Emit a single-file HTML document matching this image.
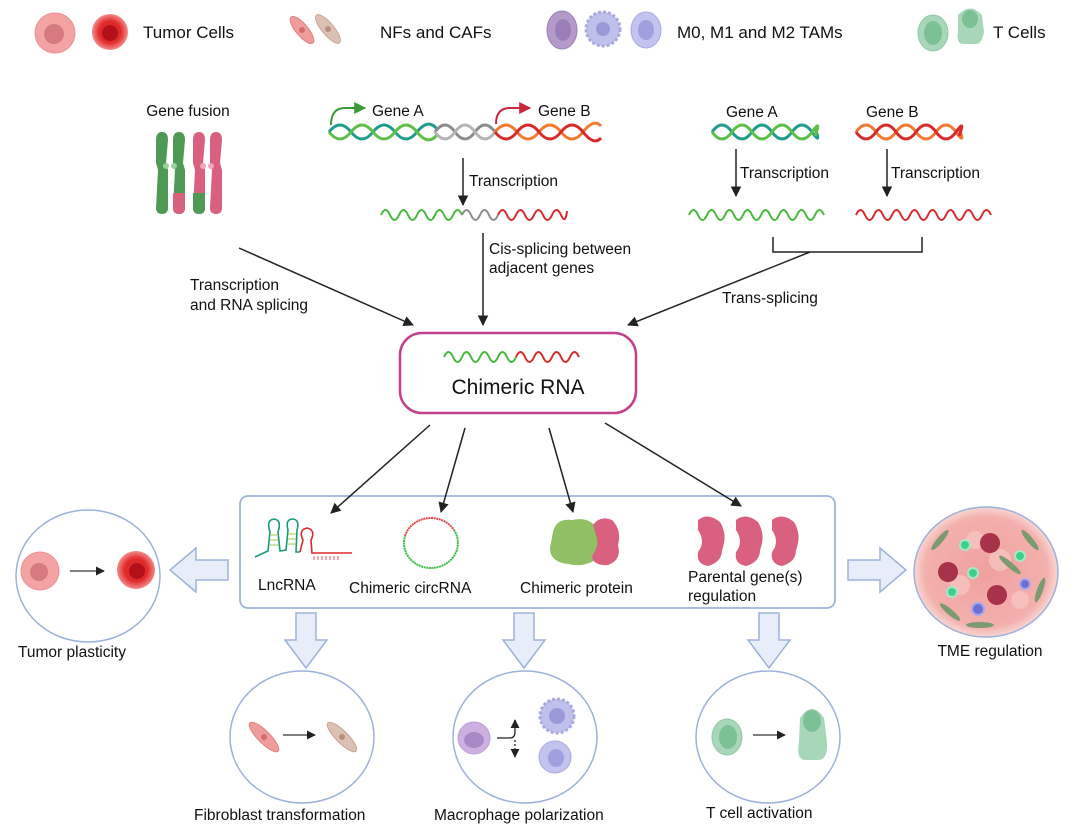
<!DOCTYPE html>
<html><head><meta charset="utf-8"><style>
html,body{margin:0;padding:0;background:#fff}
svg{display:block}
text{font-family:"Liberation Sans",Arial,sans-serif;fill:#111}
</style></head><body>
<svg width="1090" height="838" viewBox="0 0 1090 838" xmlns="http://www.w3.org/2000/svg">
<defs>
<marker id="ah" viewBox="0 0 10 10" refX="9" refY="5" markerWidth="7" markerHeight="7" orient="auto"><path d="M0,0L10,5L0,10z" fill="#222"/></marker>
<marker id="ahg" viewBox="0 0 10 10" refX="9" refY="5" markerWidth="6" markerHeight="6" orient="auto"><path d="M0,0L10,5L0,10z" fill="#3a9a3a"/></marker>
<marker id="ahr" viewBox="0 0 10 10" refX="9" refY="5" markerWidth="6" markerHeight="6" orient="auto"><path d="M0,0L10,5L0,10z" fill="#c8283a"/></marker>
<radialGradient id="rt" cx="50%" cy="50%" r="50%"><stop offset="0.6" stop-color="#e02a2a"/><stop offset="1" stop-color="#f58a8a"/></radialGradient>
<radialGradient id="tme" cx="50%" cy="50%" r="50%"><stop offset="0" stop-color="#f0a0a0"/><stop offset="0.85" stop-color="#f3b0ad"/><stop offset="1" stop-color="#f8d6d3"/></radialGradient>
</defs>

<!-- Legend -->
<circle cx="55" cy="33" r="20" fill="#f4a3a3" stroke="#ee8f8f"/>
<circle cx="54" cy="34" r="10" fill="#d57a80"/>
<circle cx="110" cy="32" r="18" fill="url(#rt)"/>
<circle cx="110" cy="33" r="8" fill="#b3101a"/>
<text x="143" y="38" font-size="17">Tumor Cells</text>
<ellipse cx="302" cy="30" rx="6" ry="17" transform="rotate(-40 302 30)" fill="#ef9d9a" stroke="#e08080"/>
<circle cx="302" cy="30" r="3" fill="#d66a6a"/>
<ellipse cx="328" cy="29" rx="6" ry="18" transform="rotate(-40 328 29)" fill="#dcc1b2" stroke="#c9a898"/>
<circle cx="328" cy="29" r="3" fill="#b89080"/>
<text x="380" y="38" font-size="17">NFs and CAFs</text>
<ellipse cx="562" cy="30" rx="15" ry="19" fill="#b49acb" stroke="#9a80b5"/>
<ellipse cx="563" cy="30" rx="8" ry="11" fill="#9a7eb8"/>
<circle cx="603" cy="29" r="17" fill="#c0c0ec" stroke="#a9a9e0" stroke-dasharray="3 2" stroke-width="3"/>
<circle cx="603" cy="29" r="7" fill="#9a9ad8"/>
<ellipse cx="646" cy="30" rx="15" ry="18" fill="#c3c3ef" stroke="#a8a8e0"/>
<ellipse cx="646" cy="30" rx="8" ry="10" fill="#a0a0dd"/>
<text x="677" y="38" font-size="17">M0, M1 and M2 TAMs</text>
<ellipse cx="933" cy="33" rx="15" ry="18" fill="#a8d6b8" stroke="#90c8a4"/>
<ellipse cx="933" cy="33" rx="9" ry="12" fill="#7cc095"/>
<path d="M958 15 Q970 2 982 15 L984 32 Q982 44 976 44 L962 44 Q956 42 958 32z" fill="#a8d6b8"/>
<ellipse cx="970" cy="19" rx="8" ry="9" fill="#7cc095"/>
<text x="993" y="38" font-size="17">T Cells</text>

<!-- Gene fusion -->
<text x="188" y="116" font-size="15.5" text-anchor="middle">Gene fusion</text>
<g>
<path d="M156 140 Q156 132 162 132 Q168 132 168 140 L166 163 L168 170 L168 208 Q168 214 162 214 Q156 214 156 208 L158 170 L156 163z" fill="#4e9a54"/>
<path d="M173 140 Q173 132 179 132 Q185 132 185 140 L183 163 L185 170 L185 208 Q185 214 179 214 Q173 214 173 208 L175 170 L173 163z" fill="#4e9a54"/>
<path d="M173 193 L185 193 L185 208 Q185 214 179 214 Q173 214 173 208z" fill="#d9607e"/>
<circle cx="166" cy="166" r="3" fill="#9ad09c"/><circle cx="174" cy="166" r="3" fill="#9ad09c"/>
<path d="M193 140 Q193 132 199 132 Q205 132 205 140 L203 163 L205 170 L205 208 Q205 214 199 214 Q193 214 193 208 L195 170 L193 163z" fill="#d9607e"/>
<path d="M210 140 Q210 132 216 132 Q222 132 222 140 L220 163 L222 170 L222 208 Q222 214 216 214 Q210 214 210 208 L212 170 L210 163z" fill="#d9607e"/>
<path d="M193 193 L205 193 L205 208 Q205 214 199 214 Q193 214 193 208z" fill="#4e9a54"/>
<circle cx="203" cy="166" r="3" fill="#f2a6b8"/><circle cx="211" cy="166" r="3" fill="#f2a6b8"/>
</g>

<!-- Cis DNA -->
<path d="M331 125 Q331 108 345 108 L365 108" fill="none" stroke="#3a9a3a" stroke-width="2" marker-end="url(#ahg)"/>
<text x="372" y="116" font-size="15.5">Gene A</text>
<path d="M496 124 Q496 108 510 108 L530 108" fill="none" stroke="#c8283a" stroke-width="2" marker-end="url(#ahr)"/>
<text x="538" y="116" font-size="15.5">Gene B</text>
<g fill="none" stroke-width="3">
<path d="M329 132 q11 -14 22 0 t22 0 t22 0 t22 0 t20 -3" stroke="#1e9c8c"/>
<path d="M329 132 q11 14 22 0 t22 0 t22 0 t22 0 t20 3" stroke="#5cbf48"/>
<path d="M435 132 q10 -14 20 0 t20 0 t20 0" stroke="#8c8c8c"/>
<path d="M435 132 q10 14 20 0 t20 0 t20 0" stroke="#b4b4b4"/>
<path d="M495 132 q11 -14 22 0 t22 0 t22 0 t22 0 t18 -6" stroke="#f07a30"/>
<path d="M495 132 q11 14 22 0 t22 0 t22 0 t22 0 t18 6" stroke="#d82a2a"/>
</g>
<line x1="463" y1="158" x2="463" y2="205" stroke="#222" stroke-width="1.5" marker-end="url(#ah)"/>
<text x="469" y="186" font-size="15.5">Transcription</text>
<g fill="none" stroke-width="2">
<path d="M381 215 q4.5 -10 9 0 t9 0 t9 0 t9 0 t9 0 t9 0 t9 0 t9 0 t9 0" stroke="#46b83c"/>
<path d="M462 215 q4.5 -10 9 0 t9 0 t9 0 t9 0" stroke="#8c8c8c"/>
<path d="M498 215 q4.5 -10 9 0 t9 0 t9 0 t9 0 t9 0 t9 0 t9 0 t6 -4" stroke="#d82a2a"/>
</g>
<line x1="483" y1="233" x2="483" y2="325" stroke="#222" stroke-width="1.5" marker-end="url(#ah)"/>
<text x="489" y="254" font-size="15.5">Cis-splicing between</text>
<text x="489" y="273" font-size="15.5">adjacent genes</text>

<!-- Trans -->
<text x="726" y="117" font-size="15.5">Gene A</text>
<text x="866" y="117" font-size="15.5">Gene B</text>
<g fill="none" stroke-width="3">
<path d="M712 132 q10 -14 20 0 t20 0 t20 0 t20 0 t20 0 t3 -4" stroke="#1e9c8c"/>
<path d="M712 132 q10 14 20 0 t20 0 t20 0 t20 0 t20 0 t3 4" stroke="#5cbf48"/>
<path d="M856 132 q10 -14 20 0 t20 0 t20 0 t20 0 t20 0 t3 -4" stroke="#f07a30"/>
<path d="M856 132 q10 14 20 0 t20 0 t20 0 t20 0 t20 0 t3 4" stroke="#d82a2a"/>
</g>
<line x1="736" y1="149" x2="736" y2="196" stroke="#222" stroke-width="1.5" marker-end="url(#ah)"/>
<line x1="887" y1="149" x2="887" y2="196" stroke="#222" stroke-width="1.5" marker-end="url(#ah)"/>
<text x="740" y="178" font-size="15.5">Transcription</text>
<text x="891" y="178" font-size="15.5">Transcription</text>
<g fill="none" stroke-width="2">
<path d="M689 215 q4.5 -10 9 0 t9 0 t9 0 t9 0 t9 0 t9 0 t9 0 t9 0 t9 0 t9 0 t9 0 t9 0 t9 0 t9 0 t9 0" stroke="#46b83c"/>
<path d="M856 215 q4.5 -10 9 0 t9 0 t9 0 t9 0 t9 0 t9 0 t9 0 t9 0 t9 0 t9 0 t9 0 t9 0 t9 0 t9 0 t9 0" stroke="#d82a2a"/>
</g>
<path d="M773 237 L773 252 L922 252 L922 237" fill="none" stroke="#222" stroke-width="1.5"/>
<line x1="810" y1="252" x2="628" y2="325" stroke="#222" stroke-width="1.5" marker-end="url(#ah)"/>
<text x="722" y="303" font-size="15.5">Trans-splicing</text>

<!-- left arrow -->
<line x1="239" y1="248" x2="413" y2="325" stroke="#222" stroke-width="1.5" marker-end="url(#ah)"/>
<text x="190" y="290" font-size="15.5">Transcription</text>
<text x="190" y="310" font-size="15.5">and RNA splicing</text>

<!-- Chimeric RNA box -->
<rect x="400" y="333" width="236" height="80" rx="22" fill="#fff" stroke="#c3408d" stroke-width="2.5"/>
<g fill="none" stroke-width="2">
<path d="M444 357 q4.5 -10 9 0 t9 0 t9 0 t9 0 t9 0 t9 0 t9 0 t9 0" stroke="#46b83c"/>
<path d="M516 357 q4.5 -10 9 0 t9 0 t9 0 t9 0 t9 0 t9 0 t9 0" stroke="#d82a2a"/>
</g>
<text x="518" y="394" font-size="21" text-anchor="middle">Chimeric RNA</text>

<!-- Main box -->
<rect x="240" y="496" width="595" height="112" rx="8" fill="#fff" stroke="#9db2da" stroke-width="1.8"/>

<line x1="430" y1="425" x2="331" y2="513" stroke="#222" stroke-width="1.5" marker-end="url(#ah)"/>
<line x1="465" y1="428" x2="441" y2="512" stroke="#222" stroke-width="1.5" marker-end="url(#ah)"/>
<line x1="549" y1="428" x2="573" y2="512" stroke="#222" stroke-width="1.5" marker-end="url(#ah)"/>
<line x1="605" y1="423" x2="741" y2="506" stroke="#222" stroke-width="1.5" marker-end="url(#ah)"/>

<!-- LncRNA icon -->
<g fill="none" stroke-width="1.6">
<path d="M255 557 L268 551 L270 532 Q266 520 274 519 Q282 520 278 532 L280 551 L286 550 L288 530 Q285 519 293 519 Q300 520 297 530 L296 552 L300 552" stroke="#179a7a"/>
<path d="M300 552 L303 540 Q298 530 307 528 Q316 530 311 540 L312 553 L352 553" stroke="#e02828"/>
<path d="M270 535 h8 M270 540 h8 M270 545 h9 M288 534 h8 M288 539 h8 M288 544 h8" stroke="#9cc84a" stroke-width="1"/>
<path d="M314 556 v4 M318 556 v4 M322 556 v4 M326 556 v4 M330 556 v4 M334 556 v4 M338 556 v4" stroke="#e02828" stroke-width="0.8"/>
</g>
<!-- circRNA -->
<path d="M405 536 A27 25 0 0 1 454 530" fill="none" stroke="#e04848" stroke-width="2" stroke-dasharray="2 0.6"/>
<path d="M454 530 A27 25 0 1 1 405 536" fill="none" stroke="#3cbf4a" stroke-width="2" stroke-dasharray="2 0.6"/>
<!-- protein -->
<path d="M553 532 Q556 518 572 520 Q590 516 598 530 Q604 545 598 558 Q585 568 568 564 Q550 562 550 548z" fill="#8fc064"/>
<path d="M593 525 Q600 515 612 520 Q622 530 618 545 Q622 560 608 565 Q593 566 592 556 Q600 545 596 535z" fill="#d9607e"/>
<!-- Parental -->
<g fill="#d9607e">
<path d="M698 520 Q708 512 720 522 Q728 535 722 550 Q722 562 708 566 Q696 564 698 552 Q706 542 698 530z"/>
<path d="M736 520 Q746 512 758 522 Q766 535 760 550 Q760 562 746 566 Q734 564 736 552 Q744 542 736 530z"/>
<path d="M772 520 Q782 512 794 522 Q802 535 796 550 Q796 562 782 566 Q770 564 772 552 Q780 542 772 530z"/>
</g>
<text x="258" y="590" font-size="15.5">LncRNA</text>
<text x="349" y="593" font-size="15.5">Chimeric circRNA</text>
<text x="520" y="593" font-size="15.5">Chimeric protein</text>
<text x="688" y="582" font-size="15.5">Parental gene(s)</text>
<text x="688" y="601" font-size="15.5">regulation</text>

<!-- hollow arrows -->
<g fill="#e8eef9" stroke="#9db2da" stroke-width="1.5">
<path d="M228 560 L196 560 L196 548 L170 570 L196 592 L196 580 L228 580z"/>
<path d="M848 560 L880 560 L880 548 L906 570 L880 592 L880 580 L848 580z"/>
<path d="M296 613 L316 613 L316 640 L327 640 L306 668 L285 640 L296 640z"/>
<path d="M514 613 L534 613 L534 640 L545 640 L524 668 L503 640 L514 640z"/>
<path d="M759 613 L779 613 L779 640 L790 640 L769 668 L748 640 L759 640z"/>
</g>

<!-- Tumor plasticity circle -->
<ellipse cx="88" cy="576" rx="72" ry="66" fill="#fff" stroke="#9db2da" stroke-width="1.5"/>
<circle cx="40" cy="571" r="19" fill="#f4a3a3" stroke="#ee8f8f"/>
<circle cx="39" cy="572" r="9" fill="#d57a80"/>
<line x1="70" y1="571" x2="104" y2="571" stroke="#333" stroke-width="1.3" marker-end="url(#ah)"/>
<circle cx="136" cy="570" r="19" fill="url(#rt)"/>
<circle cx="137" cy="571" r="8" fill="#b3101a"/>
<text x="18" y="657" font-size="15.5">Tumor plasticity</text>

<!-- TME -->
<ellipse cx="986" cy="572" rx="72" ry="65" fill="url(#tme)" stroke="#9db2da" stroke-width="1.5"/>
<g fill="#f8c8c4" opacity="0.7"><circle cx="960" cy="585" r="10"/><circle cx="1000" cy="560" r="11"/><circle cx="1020" cy="600" r="9"/><circle cx="975" cy="540" r="9"/></g>
<g fill="#a8324a"><circle cx="948" cy="572" r="10"/><circle cx="990" cy="543" r="10"/><circle cx="997" cy="595" r="10"/></g>
<g fill="#7a9a70"><ellipse cx="940" cy="540" rx="3" ry="13" transform="rotate(40 940 540)"/><ellipse cx="1030" cy="540" rx="3" ry="13" transform="rotate(-40 1030 540)"/><ellipse cx="1040" cy="590" rx="3" ry="13" transform="rotate(20 1040 590)"/><ellipse cx="950" cy="612" rx="3" ry="13" transform="rotate(-50 950 612)"/><ellipse cx="980" cy="625" rx="14" ry="3"/><ellipse cx="1010" cy="565" rx="3" ry="14" transform="rotate(-50 1010 565)"/></g>
<g fill="#3fcf8a" stroke="#a8e8c8" stroke-width="2"><circle cx="965" cy="545" r="5"/><circle cx="1020" cy="556" r="5"/><circle cx="973" cy="573" r="5"/><circle cx="952" cy="592" r="5"/></g>
<g fill="#7070d0" stroke="#a8a8ee" stroke-width="2"><circle cx="1025" cy="584" r="5"/><circle cx="978" cy="609" r="6"/></g>
<text x="990" y="656" font-size="15.5" text-anchor="middle">TME regulation</text>

<!-- Fibroblast -->
<ellipse cx="302" cy="737" rx="72" ry="66" fill="#fff" stroke="#9db2da" stroke-width="1.5"/>
<ellipse cx="264" cy="737" rx="6" ry="20" transform="rotate(-45 264 737)" fill="#ef9d9a" stroke="#e08080"/>
<circle cx="264" cy="737" r="3" fill="#d66a6a"/>
<line x1="283" y1="735" x2="315" y2="735" stroke="#333" stroke-width="1.3" marker-end="url(#ah)"/>
<ellipse cx="342" cy="737" rx="6" ry="20" transform="rotate(-45 342 737)" fill="#dcc1b2" stroke="#c9a898"/>
<circle cx="342" cy="737" r="3" fill="#b89080"/>
<text x="194" y="820" font-size="15.5">Fibroblast transformation</text>

<!-- Macrophage -->
<ellipse cx="525" cy="737" rx="72" ry="66" fill="#fff" stroke="#9db2da" stroke-width="1.5"/>
<circle cx="474" cy="738" r="16" fill="#cdb0e0" stroke="#bba0d5"/>
<ellipse cx="474" cy="740" rx="10" ry="8" fill="#a988c8"/>
<path d="M497 738 L510 738 Q515 738 515 732 L515 720" fill="none" stroke="#222" stroke-width="1.3" marker-end="url(#ah)"/>
<path d="M515 740 L515 757" fill="none" stroke="#222" stroke-width="1.3" stroke-dasharray="2 2" marker-end="url(#ah)"/>
<circle cx="557" cy="716" r="17" fill="#c0c0ec" stroke="#a9a9e0" stroke-dasharray="3 2" stroke-width="3"/>
<circle cx="557" cy="716" r="8" fill="#9a9ad8"/>
<circle cx="555" cy="757" r="16" fill="#c3c3ef" stroke="#a8a8e0"/>
<ellipse cx="556" cy="758" rx="8" ry="9" fill="#a0a0dd"/>
<text x="434" y="820" font-size="15.5">Macrophage polarization</text>

<!-- T cell -->
<ellipse cx="768" cy="737" rx="72" ry="66" fill="#fff" stroke="#9db2da" stroke-width="1.5"/>
<ellipse cx="727" cy="737" rx="15" ry="18" fill="#a8d6b8" stroke="#90c8a4"/>
<ellipse cx="728" cy="737" rx="9" ry="12" fill="#7cc095"/>
<line x1="753" y1="735" x2="785" y2="735" stroke="#333" stroke-width="1.3" marker-end="url(#ah)"/>
<path d="M800 718 Q812 700 824 718 L827 742 Q828 760 818 760 L804 760 Q796 758 799 742z" fill="#a8d6b8"/>
<ellipse cx="812" cy="721" rx="9" ry="11" fill="#7cc095"/>
<text x="706" y="818" font-size="15.5">T cell activation</text>
</svg>
</body></html>
